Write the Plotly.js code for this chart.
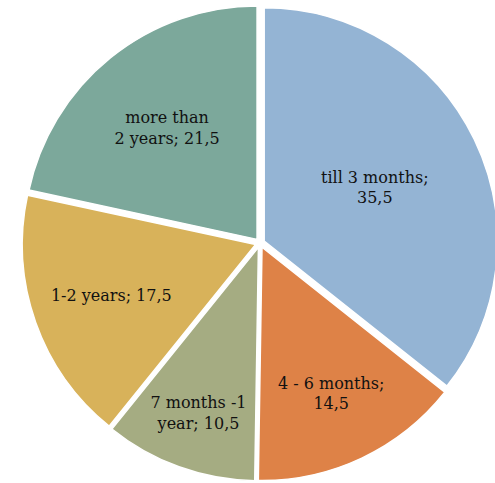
<!DOCTYPE html>
<html>
<head>
<meta charset="utf-8">
<script src="https://cdn.plot.ly/plotly-3.0.1.min.js"></script>
<style>html,body{margin:0;padding:0;background:#fff;overflow:hidden;}#chart{width:500px;height:483px;}</style>
</head>
<body>
<div id="chart"></div>
<script>
const categories = ["till 3 months", "4 - 6 months", "7 months -1<br>year", "1-2 years", "more than<br>2 years"];
const values = [35.5, 14.5, 10.5, 17.5, 21.5];
const valueLabels = ["35,5", "14,5", "10,5", "17,5", "21,5"];
const textLabels = ["till 3 months;<br>35,5", "4 - 6 months;<br>14,5", "7 months -1<br>year; 10,5", "1-2 years; 17,5", "more than<br>2 years; 21,5"];
const colors = ["#94B4D4", "#DE8247", "#A5AC82", "#D8B25A", "#7CA89B"];

const trace = {
  type: "pie",
  values: values,
  labels: categories,
  text: textLabels,
  textinfo: "text",
  hoverinfo: "label+value",
  sort: false,
  direction: "clockwise",
  rotation: 0,
  pull: 0.02,
  marker: {colors: colors, line: {color: "#ffffff", width: 1.5}},
  textposition: "inside",
  insidetextorientation: "horizontal",
  textfont: {family: "DejaVu Serif", size: 16, color: "#111111"}
};

Plotly.newPlot("chart", [trace], {
  width: 500, height: 483,
  margin: {l: 22, r: 2, t: 5, b: 2},
  showlegend: false,
  paper_bgcolor: "#ffffff"
}, {displayModeBar: false, staticPlot: true});
</script>
</body>
</html>
